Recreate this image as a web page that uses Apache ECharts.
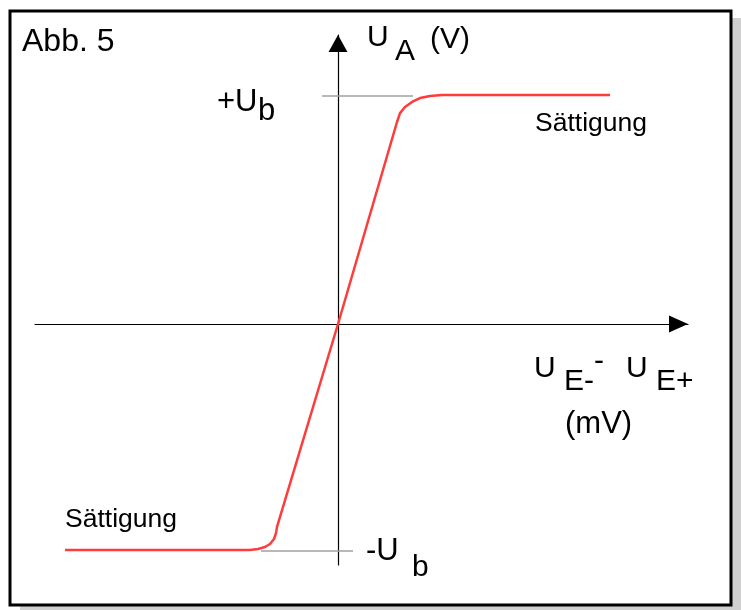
<!DOCTYPE html>
<html>
<head>
<meta charset="utf-8">
<script src="https://cdn.jsdelivr.net/npm/echarts@6/dist/echarts.min.js"></script>
<style>
  html, body { margin: 0; padding: 0; background: #fff; }
  #chart { width: 741px; height: 610px; }
</style>
</head>
<body>
<div id="chart"></div>
<script>
// Übertragungskennlinie (U_E- - U_E+ in mV, U_A in V)
const kennlinie = [
  [-5.46, -9.93], [-1.76, -9.93], [-1.6, -9.89], [-1.46, -9.8],
  [-1.36, -9.67], [-1.28, -9.45], [-1.24, -9.19], [-1.22, -8.92],
  [0, 0],
  [1.18, 8.88], [1.24, 9.27], [1.34, 9.54], [1.48, 9.76],
  [1.64, 9.93], [1.84, 10.02], [2.08, 10.07], [5.44, 10.07]
]
// Hilfslinien bei +Ub / -Ub
const hilfslinieOben = [[-0.32, 10.02], [1.5, 10.02]]
const hilfslinieUnten = [[-1.54, -9.98], [0.3, -9.98]]

const xRange = [-6.06, 7.0]
const yRange = [-10.593, 12.703]

const txt = (text, x, y, size) => ({
  type: 'text',
  z: 100,
  style: {
    text, x, y,
    font: size + 'px "Liberation Sans", Arial, sans-serif',
    fill: '#000',
    align: 'left',
    verticalAlign: 'middle'
  }
})

const chart = echarts.init(document.getElementById('chart'))

chart.setOption({
  animation: false,
  backgroundColor: '#fff',
  grid: { left: 35, right: 53, top: 35, bottom: 45 },
  xAxis: {
    type: 'value',
    min: xRange[0],
    max: xRange[1],
    axisLine: {
      onZero: true,
      lineStyle: { color: '#000', width: 1.2 },
      symbol: ['none', 'triangle'],
      symbolSize: [17, 19],
      symbolOffset: [0, -9.5]
    },
    axisTick: { show: false },
    axisLabel: { show: false },
    splitLine: { show: false }
  },
  yAxis: {
    type: 'value',
    min: yRange[0],
    max: yRange[1],
    axisLine: {
      show: true,
      onZero: true,
      lineStyle: { color: '#000', width: 1.2 },
      symbol: ['none', 'triangle'],
      symbolSize: [19, 17],
      symbolOffset: [0, -8.5]
    },
    axisTick: { show: false },
    axisLabel: { show: false },
    splitLine: { show: false }
  },
  series: [
    {
      type: 'line',
      data: hilfslinieOben,
      symbol: 'none',
      lineStyle: { color: '#a0a0a0', width: 1.5 },
      z: 1
    },
    {
      type: 'line',
      data: hilfslinieUnten,
      symbol: 'none',
      lineStyle: { color: '#a0a0a0', width: 1.5 },
      z: 1
    },
    {
      type: 'line',
      data: kennlinie,
      symbol: 'none',
      lineStyle: { color: '#ff3b3b', width: 2.5 },
      z: 3
    }
  ],
  graphic: [
    // Rahmen mit Schatten
    { type: 'rect', z: -20, shape: { x: 20, y: 18, width: 721, height: 592 }, style: { fill: '#d0d0d0' } },
    { type: 'rect', z: -10, shape: { x: 10, y: 11, width: 721, height: 594 }, style: { fill: '#fff', stroke: '#000', lineWidth: 3 } },
    txt('Abb. 5', 22, 42, 32),
    txt('U', 367, 38, 30),
    txt('A', 395, 52, 30),
    txt('(V)', 430, 40, 30),
    txt('+U', 217, 102, 31),
    txt('b', 258, 111, 31),
    txt('Sättigung', 535, 124, 26.5),
    txt('Sättigung', 65, 520, 26.5),
    txt('U', 534, 369, 30),
    txt('E-', 564, 382, 30),
    txt('-', 594, 362, 30),
    txt('U', 626, 369, 30),
    txt('E+', 656, 382, 30),
    txt('(mV)', 565, 424, 31),
    txt('-U', 366, 551, 31),
    txt('b', 412, 568, 30)
  ]
})
</script>
</body>
</html>
